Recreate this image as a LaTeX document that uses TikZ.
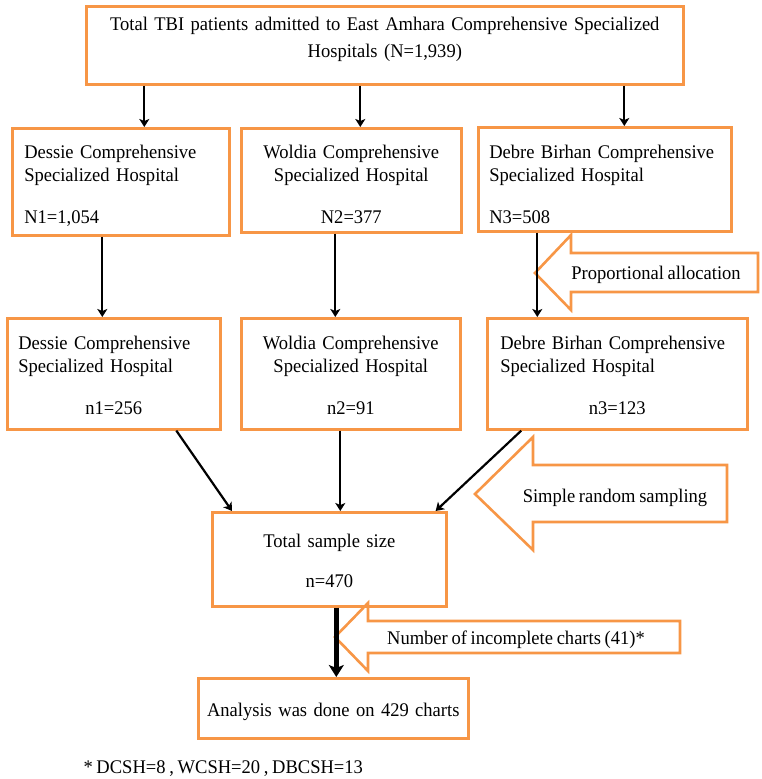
\documentclass[tikz,border=0pt]{standalone}
\usepackage{fontspec}
\setmainfont[FakeStretch=0.96,WordSpace=0.8]{Liberation Serif}
\usetikzlibrary{positioning,arrows.meta}
\definecolor{boxorange}{RGB}{247,150,70}

\begin{document}
\begin{tikzpicture}[x=1pt,y=-1pt,
    txt/.style={font=\fontsize{19.3}{23.5}\selectfont},
    box/.style={txt,draw=boxorange,line width=2.6pt,anchor=north west,inner ysep=0pt,inner xsep=12pt},
    callout/.style={draw=boxorange,line width=2.6pt},
    flow/.style={-{Stealth[length=8pt,width=10pt,inset=2pt]},line width=2.2pt},
    bigflow/.style={-{Stealth[length=12pt,width=15pt,inset=3pt]},line width=4.5pt}]
  \useasboundingbox (0,0) rectangle (762,779);

  \node[box,align=center,text width=573pt,text height=24pt,text depth=54pt] (allpat) at (85,5)
    {Total TBI patients admitted to East Amhara Comprehensive Specialized\\[3.5pt]Hospitals (N=1,939)};

  \node[box,align=left,text width=193pt,text height=30pt,text depth=77pt] (dessieA) at (11,127)
    {Dessie Comprehensive\\Specialized Hospital\\[18pt]N1=1,054};
  \node[box,align=center,text width=196pt,text height=30pt,text depth=74pt] (woldiaA) at (240,127)
    {Woldia Comprehensive\\Specialized Hospital\\[18pt]N2=377};
  \node[box,align=left,inner xsep=11pt,text width=231pt,text height=31pt,text depth=73pt] (debreA) at (477,126)
    {Debre Birhan Comprehensive\\Specialized Hospital\\[18pt]N3=508};

  \node[box,inner xsep=11pt,text width=191pt,text height=31pt,text depth=80pt] (dessieB) at (6,317)
    {Dessie Comprehensive\\Specialized Hospital\par\vspace{18pt}\centering n1=256\par};
  \node[box,align=center,text width=195pt,text height=31pt,text depth=80pt] (woldiaB) at (240,317)
    {Woldia Comprehensive\\Specialized Hospital\\[18pt]n2=91};
  \node[box,inner xsep=13pt,text width=234pt,text height=31pt,text depth=80pt] (debreB) at (486,317)
    {Debre Birhan Comprehensive\\Specialized Hospital\par\vspace{18pt}\centering n3=123\par};

  \node[box,align=center,text width=210pt,text height=35pt,text depth=59pt] (sample) at (211,511)
    {Total sample size\\[16.5pt]n=470};
  \node[box,align=center,inner xsep=4pt,text width=262pt,text height=38pt,text depth=22pt] (analysis) at (197,677)
    {Analysis was done on 429 charts};

  \draw[callout] (535,273) -- (571,235) -- (571,253) -- (758,253) -- (758,292) -- (571,292) -- (571,310) -- cycle;
  \node[txt,anchor=base] (propal) at (656,279) {Proportional allocation};
  \draw[callout] (475,494) -- (533,437) -- (533,465) -- (727,465) -- (727,522) -- (533,522) -- (533,550) -- cycle;
  \node[txt,anchor=base] (srs) at (615,502) {Simple random sampling};
  \draw[callout] (335,637) -- (368,603) -- (368,621) -- (680,621) -- (680,653) -- (368,653) -- (368,671) -- cycle;
  \node[txt,anchor=base] (incomp) at (516,644) {Number of incomplete charts (41)*};

  \draw[flow] ([xshift=23.5pt]dessieA.north |- allpat.south) -- ([xshift=23.5pt]dessieA.north);
  \draw[flow] ([xshift=9pt]woldiaA.north |- allpat.south) -- ([xshift=9pt]woldiaA.north);
  \draw[flow] ([xshift=19.5pt]debreA.north |- allpat.south) -- ([xshift=19.5pt]debreA.north);

  \draw[flow] ([xshift=-18.5pt]dessieA.south) -- ([xshift=-18.5pt]dessieA.south |- dessieB.north);
  \draw[flow] ([xshift=-16pt]woldiaA.south) -- ([xshift=-16pt]woldiaA.south |- woldiaB.north);
  \draw[flow] ([xshift=-67.5pt]debreA.south) -- ([xshift=-67.5pt]debreA.south |- debreB.north);

  \draw[flow] ([xshift=62.5pt]dessieB.south) -- ([xshift=21pt]sample.north west);
  \draw[flow] ([xshift=-10.5pt]woldiaB.south) -- ([xshift=-10.5pt]woldiaB.south |- sample.north);
  \draw[flow] ([xshift=-96pt]debreB.south) -- ([xshift=-12pt]sample.north east);

  \draw[bigflow] ([xshift=7pt]sample.south) -- ([xshift=7pt]sample.south |- analysis.north);

  \node[txt,anchor=base west] (note) at (80,773) {* DCSH=8 , WCSH=20 , DBCSH=13};
\end{tikzpicture}
\end{document}
